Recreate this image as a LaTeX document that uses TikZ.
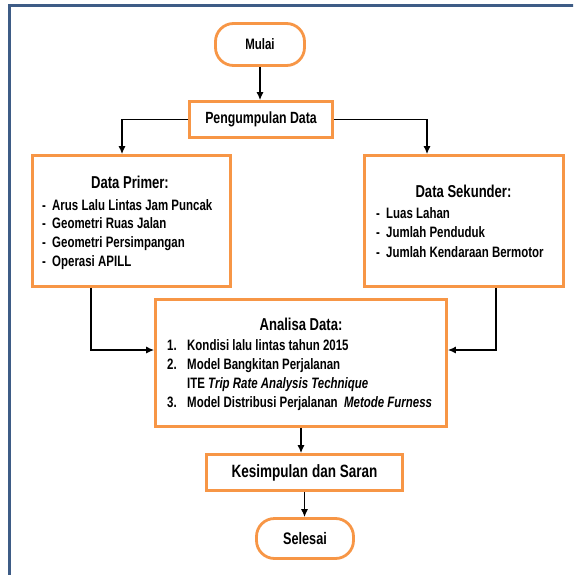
\documentclass[tikz,border=0pt]{standalone}
\usepackage{fontspec}
\setmainfont[FakeStretch=0.76]{Liberation Sans}
\usetikzlibrary{arrows.meta}
\definecolor{orangeb}{HTML}{F79646}
\definecolor{frameblue}{HTML}{3E5C86}
\begin{document}
\begin{tikzpicture}[x=1pt,y=-1pt,
 box/.style={draw=orangeb,line width=2.8pt,fill=white,inner sep=0pt},
 term/.style={box,rounded corners=18pt},
 arr/.style={draw=black,line width=1.2pt,-{Latex[length=8pt,width=7pt]}},
 lbl/.style={inner sep=0pt,anchor=base west,font=\bfseries\fontsize{15.1}{17}\selectfont},
 ttl/.style={inner sep=0pt,anchor=base,font=\bfseries\fontsize{17.2}{19}\selectfont}]
\useasboundingbox (0,0) rectangle (573,575);
\begin{scope}
\clip (0,0) rectangle (573,575);
\draw[frameblue,line width=3pt] (9,600) -- (9,6) -- (600,6);
\end{scope}
% boxes
\node[term,minimum width=89pt,minimum height=42pt,font=\bfseries\fontsize{15.1}{17}\selectfont] (mulai) at (260,44.5) {Mulai};
\node[box,minimum width=143pt,minimum height=36pt,font=\bfseries\fontsize{16.2}{18}\selectfont] (peng) at (261,119.5) {Pengumpulan Data};
\node[box,minimum width=198pt,minimum height=131pt] (primer) at (131.5,221) {};
\node[box,minimum width=199pt,minimum height=131pt] (sek) at (464,221) {};
\node[box,minimum width=291pt,minimum height=127pt] (ana) at (301,363) {};
\node[box,minimum width=196pt,minimum height=36pt,font=\bfseries\fontsize{17.8}{19}\selectfont] (kes) at (304.5,472.5) {Kesimpulan dan Saran};
\node[term,minimum width=97pt,minimum height=40pt,font=\bfseries\fontsize{16.7}{18}\selectfont] (sel) at (305,538.5) {Selesai};
% connectors
\draw[arr] (mulai.south) -- (mulai.south |- peng.north);
\draw[arr] (peng.west) -| ([xshift=-9.5pt]primer.north);
\draw[arr] (peng.east) -| ([xshift=-37pt]sek.north);
\draw[arr] ([xshift=-40.5pt]primer.south) |- ([yshift=13pt]ana.west);
\draw[arr] ([xshift=32pt]sek.south) |- ([yshift=13pt]ana.east);
\draw[arr] (ana.south) -- (ana.south |- kes.north);
\draw[arr] (kes.south) -- (kes.south |- sel.north);
% texts
\node[ttl] (pt) at (130,188) {Data Primer:};
\node[lbl] (p1) at (42,210) {\makebox[10pt][l]{-}Arus Lalu Lintas Jam Puncak};
\node[lbl] (p2) at (42,228) {\makebox[10pt][l]{-}Geometri Ruas Jalan};
\node[lbl] (p3) at (42,247) {\makebox[10pt][l]{-}Geometri Persimpangan};
\node[lbl] (p4) at (42,266) {\makebox[10pt][l]{-}Operasi APILL};
\node[ttl] (st) at (463.5,197) {Data Sekunder:};
\node[lbl] (s1) at (376,218) {\makebox[10pt][l]{-}Luas Lahan};
\node[lbl] (s2) at (376,237) {\makebox[10pt][l]{-}Jumlah Penduduk};
\node[lbl] (s3) at (376,257) {\makebox[10pt][l]{-}Jumlah Kendaraan Bermotor};
\node[ttl] (at) at (301,330) {Analisa Data:};
\node[lbl] (a1) at (167,350) {\makebox[20pt][l]{1.}Kondisi lalu lintas tahun 2015};
\node[lbl] (a2) at (167,369) {\makebox[20pt][l]{2.}Model Bangkitan Perjalanan};
\node[lbl] (a2b) at (187,388) {ITE \textit{Trip Rate Analysis Technique}};
\node[lbl] (a3) at (167,407) {\makebox[20pt][l]{3.}Model Distribusi Perjalanan\ \ \textit{Metode Furness}};
\end{tikzpicture}
\end{document}
